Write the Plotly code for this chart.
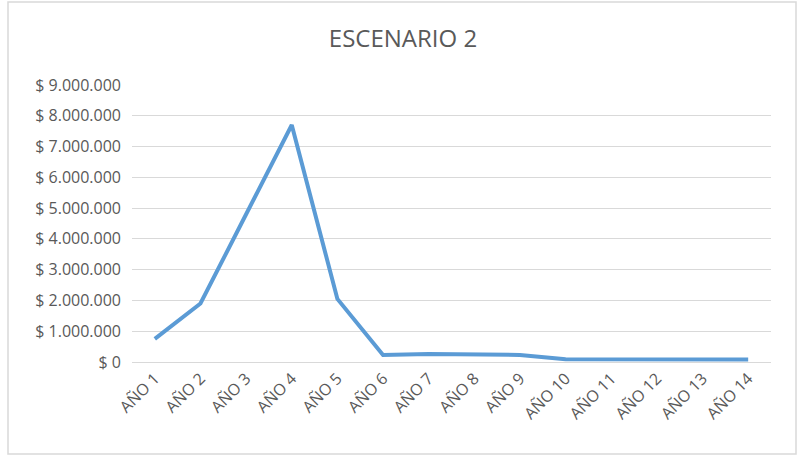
import plotly.graph_objects as go

years = ["AÑO 1", "AÑO 2", "AÑO 3", "AÑO 4", "AÑO 5", "AÑO 6", "AÑO 7",
         "AÑO 8", "AÑO 9", "AÑO 10", "AÑO 11", "AÑO 12", "AÑO 13", "AÑO 14"]
values = [750000, 1900000, 4800000, 7700000, 2050000, 230000, 260000,
          250000, 230000, 90000, 80000, 80000, 80000, 80000]
y_ticks = [0, 1000000, 2000000, 3000000, 4000000, 5000000, 6000000,
           7000000, 8000000, 9000000]
y_ticktext = ["$ " + f"{v:,}".replace(",", ".") for v in y_ticks]

fig = go.Figure()
fig.add_trace(go.Scatter(x=years, y=values, mode="lines",
                         line=dict(color="#5B9BD5", width=4),
                         hoverinfo="x+y"))

L, R, T, B = 132, 26, 85, 95
W, H = 797, 457
pw, ph = W - L - R, H - T - B

fig.update_layout(
    width=W, height=H,
    margin=dict(l=L, r=R, t=T, b=B, autoexpand=False),
    paper_bgcolor="white", plot_bgcolor="white",
    showlegend=False,
    title=dict(text="ESCENARIO 2", x=403 / W, xanchor="center",
               y=1 - 39 / H, yanchor="middle",
               font=dict(family="Open Sans", size=24, color="#595959")),
    font=dict(family="Open Sans", color="#595959", size=16),
    xaxis=dict(type="category", range=[-0.5, len(years) - 0.5],
               showgrid=False, showline=True,
               linecolor="#D9D9D9", tickangle=-45, ticks="",
               tickfont=dict(size=16, color="#595959")),
    yaxis=dict(range=[0, 9000000], tickvals=y_ticks, ticktext=y_ticktext,
               showgrid=True, gridcolor="#D9D9D9",
               zeroline=False, ticks="", showline=False,
               ticklabelstandoff=10,
               tickfont=dict(size=16, color="#595959")),
)

fig.add_shape(type="rect", xref="paper", yref="paper",
              x0=(8 - L) / pw, x1=(796 - L) / pw,
              y0=(H - B - 454) / ph, y1=(H - B - 2) / ph,
              line=dict(color="#D9D9D9", width=1.5), fillcolor="rgba(0,0,0,0)",
              layer="below")

fig.write_html("out.html", config={"displayModeBar": False},
               post_script="document.body.style.margin='0';")
